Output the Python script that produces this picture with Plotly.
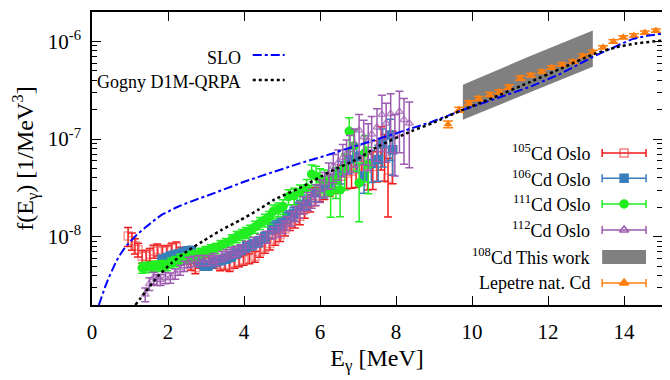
import plotly.graph_objects as go

# ---------------- data ----------------
cd105_x = [0.95, 1.05, 1.13, 1.21, 1.32, 1.43, 1.52, 1.62, 1.72, 1.85,
           1.97, 2.10, 2.22, 2.35, 2.47, 2.60, 2.72, 2.85, 2.97, 3.10,
           3.22, 3.37, 3.50, 3.62, 3.75, 3.87, 3.99, 4.14, 4.29, 4.42,
           4.55, 4.68, 4.82, 4.95, 5.08, 5.21, 5.34, 5.47, 5.60, 5.74,
           5.87, 6.00, 6.12, 6.25, 6.40, 6.55, 6.70, 6.83, 6.95, 7.10,
           7.25, 7.39, 7.50, 7.61, 7.70, 7.79, 7.91]
cd105_y = [1.02e-8, 9.1e-9, 8.1e-9, 7.4e-9, 6.3e-9, 6.3e-9, 6.6e-9, 7.1e-9, 7.4e-9, 7.1e-9,
           7.2e-9, 7.6e-9, 7.8e-9, 6.9e-9, 6.0e-9, 5.2e-9, 4.8e-9, 5.4e-9, 5.5e-9, 5.8e-9,
           5.4e-9, 5.1e-9, 5.2e-9, 5.0e-9, 5.4e-9, 5.6e-9, 5.8e-9, 6.0e-9, 6.3e-9, 7.1e-9,
           7.8e-9, 8.5e-9, 9.5e-9, 1.05e-8, 1.20e-8, 1.38e-8, 1.48e-8, 1.62e-8, 1.91e-8, 2.24e-8,
           2.63e-8, 2.95e-8, 3.16e-8, 3.47e-8, 3.80e-8, 4.17e-8, 4.47e-8, 4.68e-8, 4.90e-8, 5.37e-8,
           5.01e-8, 5.25e-8, 6.61e-8, 9.12e-8, 7.41e-8, 3.98e-8, 7.76e-8]
cd105_rel = [0.22, 0.20, 0.18, 0.16, 0.15, 0.15, 0.15, 0.15, 0.14, 0.14,
             0.13, 0.13, 0.13, 0.13, 0.13, 0.13, 0.13, 0.12, 0.12, 0.12,
             0.12, 0.12, 0.12, 0.12, 0.12, 0.12, 0.12, 0.12, 0.13, 0.13,
             0.13, 0.14, 0.14, 0.15, 0.15, 0.16, 0.17, 0.18, 0.19, 0.20,
             0.21, 0.22, 0.24, 0.25, 0.27, 0.29, 0.31, 0.33, 0.35, 0.37,
             0.40, 0.42, 0.45, 0.47, 0.50, 0.60, 0.55]

cd106_x = [1.84, 1.95, 2.06, 2.17, 2.28, 2.39, 2.50, 2.61, 2.72, 2.84,
           2.95, 3.06, 3.17, 3.28, 3.41, 3.54, 3.67, 3.81, 3.94, 4.07,
           4.22, 4.38, 4.55, 4.73, 4.84, 4.95, 5.13, 5.30, 5.47, 5.65,
           5.87, 6.10, 6.23, 6.40, 6.55, 6.75, 6.97, 7.16, 7.35, 7.53,
           7.65, 7.84, 7.91]
cd106_y = [5.8e-9, 6.0e-9, 6.3e-9, 6.5e-9, 6.6e-9, 6.9e-9, 7.1e-9, 7.2e-9, 6.3e-9, 5.5e-9,
           5.1e-9, 5.1e-9, 5.4e-9, 5.6e-9, 5.8e-9, 6.0e-9, 6.3e-9, 6.8e-9, 7.4e-9, 7.9e-9,
           8.3e-9, 8.9e-9, 1.0e-8, 1.23e-8, 1.29e-8, 1.38e-8, 1.62e-8, 1.74e-8, 2.04e-8, 2.29e-8,
           2.82e-8, 3.16e-8, 3.47e-8, 3.98e-8, 4.68e-8, 6.17e-8, 6.61e-8, 4.17e-8, 5.62e-8, 6.17e-8,
           8.91e-8, 1.10e-7, 7.76e-8]
cd106_rel = [0.12, 0.12, 0.11, 0.11, 0.11, 0.11, 0.11, 0.11, 0.11, 0.11,
             0.11, 0.11, 0.11, 0.11, 0.11, 0.11, 0.11, 0.11, 0.11, 0.11,
             0.12, 0.12, 0.12, 0.13, 0.13, 0.13, 0.14, 0.15, 0.16, 0.17,
             0.19, 0.21, 0.22, 0.24, 0.26, 0.28, 0.30, 0.33, 0.36, 0.40,
             0.42, 0.45, 0.45]

cd111_x = [1.32, 1.43, 1.54, 1.65, 1.75, 1.86, 1.97, 2.08, 2.19, 2.32,
           2.46, 2.59, 2.72, 2.85, 2.98, 3.12, 3.25, 3.38, 3.52, 3.68,
           3.81, 3.94, 4.05, 4.16, 4.29, 4.42, 4.55, 4.66, 4.77, 4.90,
           5.03, 5.17, 5.32, 5.47, 5.65, 5.78, 5.90, 6.00, 6.13, 6.28,
           6.42, 6.53, 6.65, 6.77, 6.89, 7.03, 7.18, 7.27]
cd111_y = [4.8e-9, 4.9e-9, 4.9e-9, 5.0e-9, 5.0e-9, 5.1e-9, 5.1e-9, 5.4e-9, 5.6e-9, 5.9e-9,
           6.0e-9, 6.3e-9, 6.5e-9, 6.8e-9, 7.1e-9, 7.4e-9, 7.6e-9, 8.1e-9, 8.5e-9, 9.3e-9,
           1.0e-8, 1.05e-8, 1.10e-8, 1.15e-8, 1.26e-8, 1.38e-8, 1.48e-8, 1.58e-8, 1.82e-8, 1.91e-8,
           2.04e-8, 2.57e-8, 2.63e-8, 2.82e-8, 3.16e-8, 4.37e-8, 4.17e-8, 3.89e-8, 3.72e-8, 2.88e-8,
           3.80e-8, 3.02e-8, 5.01e-8, 1.20e-7, 8.51e-8, 3.55e-8, 7.24e-8, 5.50e-8]
cd111_rel = [0.12, 0.12, 0.12, 0.12, 0.12, 0.12, 0.12, 0.12, 0.12, 0.12,
             0.12, 0.12, 0.12, 0.12, 0.12, 0.12, 0.12, 0.13, 0.13, 0.13,
             0.13, 0.13, 0.13, 0.14, 0.14, 0.14, 0.15, 0.15, 0.16, 0.16,
             0.17, 0.18, 0.19, 0.20, 0.22, 0.24, 0.26, 0.28, 0.30, 0.45,
             0.35, 0.47, 0.40, 0.38, 0.45, 0.60, 0.50, 0.50]

cd112_x = [1.40, 1.51, 1.62, 1.71, 1.80, 1.93, 2.06, 2.19, 2.32, 2.43,
           2.54, 2.67, 2.81, 2.94, 3.07, 3.19, 3.29, 3.42, 3.54, 3.66,
           3.78, 3.90, 4.05, 4.25, 4.42, 4.60, 4.75, 4.90, 5.02, 5.13,
           5.25, 5.35, 5.46, 5.57, 5.68, 5.78, 5.89, 6.00, 6.12, 6.23,
           6.35, 6.48, 6.60, 6.70, 6.79, 6.91, 7.03, 7.15, 7.27, 7.36,
           7.50, 7.63, 7.74, 7.86, 7.97, 8.09, 8.21, 8.35]
cd112_y = [2.57e-9, 3.31e-9, 3.80e-9, 3.63e-9, 3.63e-9, 3.80e-9, 3.80e-9, 4.17e-9, 4.57e-9, 5.01e-9,
           5.50e-9, 5.62e-9, 5.75e-9, 5.75e-9, 5.75e-9, 6.03e-9, 5.75e-9, 6.31e-9, 6.61e-9, 6.92e-9,
           7.08e-9, 7.41e-9, 7.94e-9, 8.71e-9, 9.33e-9, 1.0e-8, 1.10e-8, 1.17e-8, 1.26e-8, 1.38e-8,
           1.55e-8, 1.74e-8, 1.91e-8, 2.14e-8, 2.34e-8, 2.51e-8, 2.75e-8, 3.02e-8, 3.55e-8, 4.37e-8,
           5.25e-8, 5.75e-8, 6.46e-8, 7.08e-8, 7.76e-8, 8.91e-8, 1.23e-7, 1.05e-7, 9.55e-8, 1.12e-7,
           1.32e-7, 1.78e-7, 1.45e-7, 1.82e-7, 1.10e-7, 1.91e-7, 1.58e-7, 1.45e-7]
cd112_rel = [0.16, 0.15, 0.14, 0.13, 0.13, 0.13, 0.12, 0.12, 0.12, 0.12,
             0.12, 0.12, 0.12, 0.12, 0.12, 0.12, 0.12, 0.12, 0.12, 0.12,
             0.12, 0.12, 0.13, 0.13, 0.13, 0.14, 0.14, 0.15, 0.15, 0.16,
             0.17, 0.18, 0.19, 0.20, 0.21, 0.22, 0.24, 0.26, 0.28, 0.30,
             0.32, 0.34, 0.36, 0.38, 0.40, 0.42, 0.45, 0.48, 0.50, 0.52,
             0.55, 0.58, 0.60, 0.60, 0.62, 0.62, 0.65, 0.65]

band_x = [9.76, 11.5, 13.18]
band_lo = [1.58e-7, 3.0e-7, 5.5e-7]
band_hi = [3.6e-7, 7.0e-7, 1.29e-6]

lep_x = [9.37, 9.66, 9.92, 10.18, 10.47, 10.72, 10.97, 11.27, 11.55, 11.84,
         12.10, 12.37, 12.66, 12.92, 13.18, 13.45, 13.72, 13.98, 14.26, 14.55, 14.84]
lep_y = [1.42e-7, 2.0e-7, 2.35e-7, 2.6e-7, 2.85e-7, 3.05e-7, 3.4e-7, 4.2e-7, 4.5e-7, 4.9e-7,
         5.4e-7, 5.8e-7, 6.2e-7, 7.1e-7, 7.8e-7, 8.7e-7, 1.0e-6, 1.1e-6, 1.15e-6, 1.23e-6, 1.29e-6]
lep_rel = [0.08, 0.06, 0.05, 0.05, 0.05, 0.05, 0.05, 0.05, 0.04, 0.04,
           0.04, 0.04, 0.04, 0.04, 0.04, 0.04, 0.04, 0.04, 0.04, 0.04, 0.04]

slo_x = [0.18, 0.26, 0.35, 0.44, 0.53, 0.62, 0.70, 0.79, 0.88, 0.97, 1.05, 1.18, 1.32, 1.45,
         1.58, 1.71, 1.84, 2.0, 2.2, 2.4, 2.6, 2.8, 3.0, 3.5, 4.0,
         4.5, 5.0, 5.5, 6.0, 6.5, 7.0, 7.5, 8.0, 8.9, 9.7, 10.5, 11.5, 12.3, 12.8, 13.2, 13.7,
         14.2, 14.6, 15.0]
slo_y = [2.0e-9, 2.5e-9, 3.1e-9, 3.8e-9, 4.6e-9, 5.4e-9, 6.2e-9, 7.0e-9, 7.9e-9, 8.6e-9,
         9.3e-9, 1.05e-8, 1.17e-8, 1.29e-8, 1.41e-8, 1.55e-8, 1.68e-8, 1.82e-8, 1.98e-8, 2.14e-8,
         2.3e-8, 2.45e-8, 2.6e-8, 3.1e-8, 3.65e-8,
         4.25e-8, 4.95e-8, 5.7e-8, 6.5e-8, 7.5e-8, 8.6e-8, 1.0e-7, 1.15e-7, 1.48e-7, 1.95e-7,
         2.5e-7, 3.4e-7, 4.6e-7, 5.8e-7, 7.0e-7, 8.6e-7, 1.05e-6, 1.14e-6, 1.2e-6]

gogny_x = [1.14, 1.4, 1.75, 2.1, 2.5, 2.9, 3.4, 3.9, 4.4, 4.8, 5.5, 6.25, 7.0, 7.5,
           8.4, 9.0, 9.7, 10.5, 11.5, 12.4, 13.2, 13.8, 14.3, 15.0]
gogny_y = [2.0e-9, 2.7e-9, 4.0e-9, 5.4e-9, 7.1e-9, 8.9e-9, 1.17e-8, 1.48e-8, 1.91e-8, 2.4e-8,
           3.2e-8, 4.6e-8, 6.3e-8, 8.3e-8, 1.2e-7, 1.48e-7, 1.95e-7, 2.6e-7, 3.8e-7, 5.4e-7,
           7.4e-7, 8.7e-7, 9.5e-7, 1.02e-6]

y_tickvals = [1e-8, 1e-7, 1e-6]
y_ticktext = ["10<sup>-8</sup>", "10<sup>-7</sup>", "10<sup>-6</sup>"]
x_tickvals = [0, 2, 4, 6, 8, 10, 12, 14]

# ---------------- styles ----------------
RED = "#f01818"
BLUE = "#3a7dbb"
GREEN = "#22ee22"
PURPLE = "#9c5bb0"
ORANGE = "#ff7f0e"
FONT = "Liberation Serif, Times New Roman, serif"


def errs(y, rel):
    return [a * b for a, b in zip(y, rel)]


fig = go.Figure()

oslo = [
    (cd105_x, cd105_y, cd105_rel, RED, "square-open", 8, "rgba(240,70,70,0.55)"),
    (cd106_x, cd106_y, cd106_rel, BLUE, "square", 8, BLUE),
    (cd111_x, cd111_y, cd111_rel, GREEN, "circle", 8, GREEN),
    (cd112_x, cd112_y, cd112_rel, PURPLE, "triangle-up-open", 7, "rgba(156,91,176,0.7)"),
]
for xs, ys, rel, col, sym, sz, mcol in oslo:
    fig.add_trace(go.Scatter(
        x=xs, y=ys, mode="markers",
        marker=dict(symbol=sym, size=sz, color=mcol, line=dict(width=1.5, color=mcol)),
        error_y=dict(type="data", array=errs(ys, rel), color=col, thickness=1.5, width=4),
        showlegend=False))

# band
fig.add_trace(go.Scatter(x=band_x, y=band_lo, mode="lines", line=dict(width=0, color="#808080"),
                         showlegend=False))
fig.add_trace(go.Scatter(x=band_x, y=band_hi, mode="lines", line=dict(width=0, color="#808080"),
                         fill="tonexty", fillcolor="#808080",
                         showlegend=False))

# Lepetre
fig.add_trace(go.Scatter(
    x=lep_x, y=lep_y, mode="markers",
    marker=dict(symbol="triangle-up", size=8, color=ORANGE),
    error_y=dict(type="data", array=errs(lep_y, lep_rel), color=ORANGE, thickness=1.5, width=5),
    showlegend=False))

# curves
fig.add_trace(go.Scatter(x=slo_x, y=slo_y, mode="lines",
                         line=dict(color="#0000ff", width=2, dash="dashdot"),
                         showlegend=False))
fig.add_trace(go.Scatter(x=gogny_x, y=gogny_y, mode="lines",
                         line=dict(color="black", width=2.5, dash="dot", shape="spline", smoothing=0.6),
                         showlegend=False))

# ---------------- manual legends ----------------
annotations = []
shapes = []
tl_text_x = 0.265
for label, ty, ly, col, dash in [("SLO", 0.843, 0.853, "#0000ff", "dashdot"),
                                 ("Gogny D1M-QRPA", 0.760, 0.768, "black", "dot")]:
    annotations.append(dict(x=tl_text_x, y=ty, xref="paper", yref="paper", text=label, showarrow=False,
                            xanchor="right", yanchor="middle", font=dict(family=FONT, size=18, color="black")))
    shapes.append(dict(type="line", xref="paper", yref="paper", x0=0.282, x1=0.338, y0=ly, y1=ly,
                       line=dict(color=col, width=2 if dash == "dashdot" else 2.5, dash=dash)))

rl_text_x = 0.877
rl_x0, rl_x1, rl_xc = 0.895, 0.972, 0.9335
entries = [
    ("<sup>105</sup>Cd Oslo", 0.519, RED, "square-open", "rgba(240,70,70,0.7)"),
    ("<sup>106</sup>Cd Oslo", 0.433, BLUE, "square", BLUE),
    ("<sup>111</sup>Cd Oslo", 0.345, GREEN, "circle", GREEN),
    ("<sup>112</sup>Cd Oslo", 0.256, PURPLE, "triangle-up-open", PURPLE),
    ("<sup>108</sup>Cd This work", 0.164, None, None, None),
    ("Lepetre nat. Cd", 0.075, ORANGE, "triangle-up", ORANGE),
]
for label, yy, col, sym, mcol in entries:
    annotations.append(dict(x=rl_text_x, y=yy, xref="paper", yref="paper", text=label, showarrow=False,
                            xanchor="right", yanchor="middle", font=dict(family=FONT, size=18, color="black")))
    if col is None:
        shapes.append(dict(type="rect", xref="paper", yref="paper", x0=rl_x0, x1=rl_x1,
                           y0=yy - 0.024, y1=yy + 0.024, fillcolor="#808080", line=dict(width=0)))
    else:
        fig.add_trace(go.Scatter(
            x=[rl_xc], y=[yy], xaxis="x2", yaxis="y2", mode="markers",
            marker=dict(symbol=sym, size=8, color=mcol, line=dict(width=1.5, color=mcol)),
            error_x=dict(type="constant", value=(rl_x1 - rl_x0) / 2, color=col, thickness=1.5, width=4),
            showlegend=False, hoverinfo="skip"))

axis_common = dict(showline=True, linecolor="black", linewidth=1.5, mirror="allticks",
                   ticks="inside", ticklen=9, tickwidth=1.2, tickcolor="black",
                   showgrid=False, zeroline=False, automargin=False,
                   tickfont=dict(family=FONT, size=21, color="black"))

minor_vals = [m * 10.0 ** e for e in (-9, -8, -7) for m in range(2, 10)] + [2e-6]

# the page body adds an 8px offset, so the figure is 8px smaller and margins compensate
fig.update_layout(
    width=662, height=372,
    margin=dict(l=84, r=8, t=4, b=75),
    paper_bgcolor="white", plot_bgcolor="white",
    font=dict(family=FONT, size=18, color="black"),
    xaxis=dict(range=[0, 15], tickvals=x_tickvals, ticklabelstandoff=7,
               title=dict(text="E<sub>γ</sub> [MeV]", font=dict(family=FONT, size=24), standoff=6),
               **axis_common),
    yaxis=dict(type="log", range=[-8.699, -5.699], tickvals=y_tickvals, ticktext=y_ticktext,
               ticklabelstandoff=5,
               minor=dict(ticks="inside", ticklen=5, tickwidth=1, tickcolor="black", tickvals=minor_vals),
               title=dict(text="f(E<sub>γ</sub>) [1/MeV<sup>3</sup>]", font=dict(family=FONT, size=24), standoff=12),
               **axis_common),
    xaxis2=dict(overlaying="x", range=[0, 1], visible=False, anchor="y2", fixedrange=True, automargin=False),
    yaxis2=dict(overlaying="y", range=[0, 1], visible=False, anchor="x2", fixedrange=True, automargin=False),
    annotations=annotations,
    shapes=shapes,
)

fig.write_html("out.html")
